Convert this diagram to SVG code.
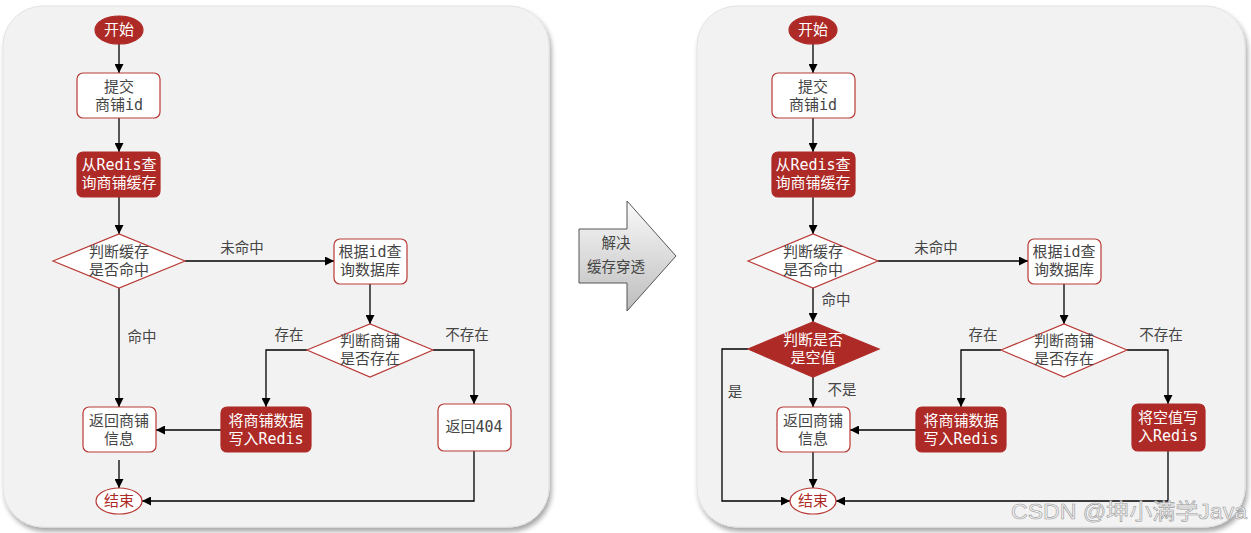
<svg xmlns="http://www.w3.org/2000/svg" width="1251" height="533" viewBox="0 0 1251 533">
<style>
.panel{fill:#f2f2f2;stroke:#e2e2e2;stroke-width:1}
.box{fill:#ffffff;stroke:#b83a36;stroke-width:1.2}
.rbox{fill:#ae2a26;stroke:#ae2a26;stroke-width:1.2}
.t{font-family:'DejaVu Sans Mono','Noto Sans CJK SC',monospace;font-size:15px;fill:#454545;text-anchor:middle}
.w{fill:#ffffff}
.rt{fill:#ae2a26}
.lbl{font-family:'Noto Sans CJK SC','DejaVu Sans',sans-serif;font-size:14.5px;fill:#454545;text-anchor:middle}
.c{fill:none;stroke:#000000;stroke-width:1.3}
</style>
<defs>
<marker id="ah" viewBox="0 0 10 10" refX="10" refY="5" markerUnits="userSpaceOnUse" markerWidth="9" markerHeight="9" orient="auto">
<path d="M0,0 L10,5 L0,10 z" fill="#000000"/>
</marker>
<filter id="sh" x="-5%" y="-5%" width="110%" height="112%">
<feDropShadow dx="2" dy="4" stdDeviation="2.5" flood-color="#000000" flood-opacity="0.35"/>
</filter>
<linearGradient id="ag" x1="0" y1="0" x2="0" y2="1">
<stop offset="0" stop-color="#fafafa"/>
<stop offset="1" stop-color="#bdbdbd"/>
</linearGradient>
</defs>

<g id="panels">
<rect class="panel" x="3" y="6" width="546" height="521" rx="40" filter="url(#sh)"/>
<rect class="panel" x="697" y="6" width="548" height="521" rx="40" filter="url(#sh)"/>
</g>

<g id="bigArrow">
<path d="M579,229 L627,229 L627,201 L676,256 L627,311 L627,283 L579,283 Z" fill="url(#ag)" stroke="#555555" stroke-width="1"/>
<text class="t" x="616" y="248" style="font-family:'Noto Sans CJK SC',sans-serif;font-size:14.5px">解决</text>
<text class="t" x="616" y="272" style="font-family:'Noto Sans CJK SC',sans-serif;font-size:14.5px">缓存穿透</text>
</g>

<g id="connectors">
<path class="c" d="M119,44 V73" marker-end="url(#ah)"/>
<path class="c" d="M119,118 V152" marker-end="url(#ah)"/>
<path class="c" d="M119,197 V234" marker-end="url(#ah)"/>
<path class="c" d="M185,261 H334" marker-end="url(#ah)"/>
<path class="c" d="M119,288 V407" marker-end="url(#ah)"/>
<path class="c" d="M370,284 V324" marker-end="url(#ah)"/>
<path class="c" d="M307,350 H266 V407" marker-end="url(#ah)"/>
<path class="c" d="M433,350 H474 V404" marker-end="url(#ah)"/>
<path class="c" d="M221,430 H156" marker-end="url(#ah)"/>
<path class="c" d="M119,460 V488" marker-end="url(#ah)"/>
<path class="c" d="M474,451 V501 H142" marker-end="url(#ah)"/>

<path class="c" d="M813,44 V73" marker-end="url(#ah)"/>
<path class="c" d="M813,118 V152" marker-end="url(#ah)"/>
<path class="c" d="M813,197 V234" marker-end="url(#ah)"/>
<path class="c" d="M878,261 H1028" marker-end="url(#ah)"/>
<path class="c" d="M813,288 V322" marker-end="url(#ah)"/>
<path class="c" d="M813,377 V407" marker-end="url(#ah)"/>
<path class="c" d="M748,349 H722 V501 H790" marker-end="url(#ah)"/>
<path class="c" d="M1064,284 V324" marker-end="url(#ah)"/>
<path class="c" d="M1001,350 H961 V407" marker-end="url(#ah)"/>
<path class="c" d="M1127,350 H1168 V404" marker-end="url(#ah)"/>
<path class="c" d="M916,430 H850" marker-end="url(#ah)"/>
<path class="c" d="M813,452 V488" marker-end="url(#ah)"/>
<path class="c" d="M1168,451 V501 H836" marker-end="url(#ah)"/>

<text class="lbl" x="242" y="253">未命中</text>
<text class="lbl" x="142" y="342">命中</text>
<text class="lbl" x="289" y="340">存在</text>
<text class="lbl" x="467" y="340">不存在</text>

<text class="lbl" x="936" y="253">未命中</text>
<text class="lbl" x="836" y="305">命中</text>
<text class="lbl" x="842" y="395">不是</text>
<text class="lbl" x="735" y="397">是</text>
<text class="lbl" x="983" y="340">存在</text>
<text class="lbl" x="1161" y="340">不存在</text>
</g>

<g id="L-start">
<ellipse cx="119" cy="30" rx="24" ry="14" class="rbox"/>
<text class="t w" x="119" y="35">开始</text>
</g>
<g id="L-submit">
<rect class="box" x="77" y="73" width="83" height="45" rx="6"/>
<text class="t" x="119" y="92">提交</text>
<text class="t" x="119" y="110">商铺id</text>
</g>
<g id="L-query">
<rect class="rbox" x="77" y="152" width="83" height="45" rx="6"/>
<text class="t w" x="119" y="170">从Redis查</text>
<text class="t w" x="119" y="188">询商铺缓存</text>
</g>
<g id="L-hit">
<path class="box" d="M53,261 L119,234 L185,261 L119,288 Z"/>
<text class="t" x="119" y="257">判断缓存</text>
<text class="t" x="119" y="275">是否命中</text>
</g>
<g id="L-db">
<rect class="box" x="334" y="239" width="73" height="45" rx="6"/>
<text class="t" x="370" y="257">根据id查</text>
<text class="t" x="370" y="275">询数据库</text>
</g>
<g id="L-exists">
<path class="box" d="M307,350 L370,324 L433,350 L370,377 Z"/>
<text class="t" x="370" y="346">判断商铺</text>
<text class="t" x="370" y="364">是否存在</text>
</g>
<g id="L-write">
<rect class="rbox" x="221" y="407" width="90" height="45" rx="6"/>
<text class="t w" x="266" y="426">将商铺数据</text>
<text class="t w" x="266" y="444">写入Redis</text>
</g>
<g id="L-return">
<rect class="box" x="83" y="407" width="73" height="45" rx="6"/>
<text class="t" x="119" y="426">返回商铺</text>
<text class="t" x="119" y="444">信息</text>
</g>
<g id="L-404">
<rect class="box" x="438" y="404" width="73" height="47" rx="6"/>
<text class="t" x="474" y="432">返回404</text>
</g>
<g id="L-end">
<ellipse cx="119" cy="501" rx="23" ry="13" class="box"/>
<text class="t rt" x="119" y="506">结束</text>
</g>

<g id="R-start">
<ellipse cx="813" cy="30" rx="24" ry="14" class="rbox"/>
<text class="t w" x="813" y="35">开始</text>
</g>
<g id="R-submit">
<rect class="box" x="772" y="73" width="83" height="45" rx="6"/>
<text class="t" x="813" y="92">提交</text>
<text class="t" x="813" y="110">商铺id</text>
</g>
<g id="R-query">
<rect class="rbox" x="772" y="152" width="83" height="45" rx="6"/>
<text class="t w" x="813" y="170">从Redis查</text>
<text class="t w" x="813" y="188">询商铺缓存</text>
</g>
<g id="R-hit">
<path class="box" d="M748,261 L813,234 L878,261 L813,288 Z"/>
<text class="t" x="813" y="257">判断缓存</text>
<text class="t" x="813" y="275">是否命中</text>
</g>
<g id="R-null">
<path class="rbox" d="M748,349 L813,322 L879,349 L813,377 Z"/>
<text class="t w" x="813" y="345">判断是否</text>
<text class="t w" x="813" y="363">是空值</text>
</g>
<g id="R-db">
<rect class="box" x="1028" y="239" width="73" height="45" rx="6"/>
<text class="t" x="1064" y="257">根据id查</text>
<text class="t" x="1064" y="275">询数据库</text>
</g>
<g id="R-exists">
<path class="box" d="M1001,350 L1064,324 L1127,350 L1064,377 Z"/>
<text class="t" x="1064" y="346">判断商铺</text>
<text class="t" x="1064" y="364">是否存在</text>
</g>
<g id="R-write">
<rect class="rbox" x="916" y="407" width="90" height="45" rx="6"/>
<text class="t w" x="961" y="426">将商铺数据</text>
<text class="t w" x="961" y="444">写入Redis</text>
</g>
<g id="R-return">
<rect class="box" x="777" y="407" width="73" height="45" rx="6"/>
<text class="t" x="813" y="426">返回商铺</text>
<text class="t" x="813" y="444">信息</text>
</g>
<g id="R-writenull">
<rect class="rbox" x="1132" y="404" width="73" height="47" rx="6"/>
<text class="t w" x="1168" y="423">将空值写</text>
<text class="t w" x="1168" y="441">入Redis</text>
</g>
<g id="R-end">
<ellipse cx="813" cy="501" rx="23" ry="13" class="box"/>
<text class="t rt" x="813" y="506">结束</text>
</g>

<g id="watermark">
<text x="1011" y="519" textLength="236" lengthAdjust="spacingAndGlyphs" style="font-family:'Liberation Sans','Noto Sans CJK SC',sans-serif;font-size:22px;fill:#f4f4f4;stroke:#9a9a9a;stroke-width:0.6">CSDN @坤小满学Java</text>
</g>
</svg>
